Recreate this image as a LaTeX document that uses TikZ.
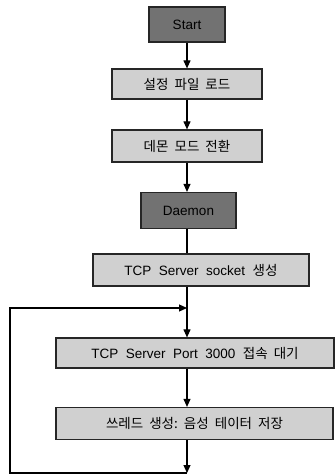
\documentclass[tikz,border=0pt]{standalone}
\usepackage{fontspec}
\setmainfont{Liberation Sans}
\newfontfamily\kr{Noto Sans CJK KR}
\usetikzlibrary{arrows.meta,calc}
\definecolor{darkbox}{HTML}{727272}
\definecolor{lightbox}{HTML}{D0D0D0}
\tikzset{
  box/.style={draw=black!85, line width=1.2pt, inner sep=0pt, align=center, font=\fontsize{13.5}{15}\selectfont},
  darkstep/.style={box, fill=darkbox},
  lightstep/.style={box, fill=lightbox},
  arr/.style={line width=1.1pt, -{Triangle[length=8pt,width=7pt]}},
  ln/.style={line width=1.1pt}
}
\begin{document}
\begin{tikzpicture}[x=1pt,y=-1pt]
\useasboundingbox (0,0) rectangle (335,476);
\coordinate (ax) at (187,0);
\node[darkstep, minimum width=76pt, minimum height=35pt] (start) at (187,24.5) {Start};
\node[lightstep, minimum width=150pt, minimum height=30pt] (cfg) at (187,84) {\kr 설정\ \ 파일\ \ 로드};
\node[lightstep, minimum width=150pt, minimum height=32pt] (mode) at (187,146) {\kr 데몬\ \ 모드\ \ 전환};
\node[darkstep, minimum width=95pt, minimum height=36pt] (daemon) at (188.5,210.5) {Daemon};
\node[lightstep, minimum width=216pt, minimum height=32pt] (sock) at (201,270) {TCP\ \ Server\ \ socket\ \ {\kr 생성}};
\node[lightstep, minimum width=278pt, minimum height=30pt] (port) at (195,353) {TCP\ \ Server\ \ Port\ \ 3000\ \ {\kr 접속\ \ 대기}};
\node[lightstep, minimum width=277pt, minimum height=32pt] (thread) at (194.5,423.5) {{\kr 쓰레드\ \ 생성:\ \ 음성\ \ 테이터\ \ 저장}};
\coordinate (bot) at (187,473);
\coordinate (bl) at (10,473);
\coordinate (tl) at (10,308);
\coordinate (tr) at (187,308);
\draw[arr] (ax |- start.south) -- (ax |- cfg.north);
\draw[arr] (ax |- cfg.south) -- (ax |- mode.north);
\draw[arr] (ax |- mode.south) -- (ax |- daemon.north);
\draw[ln] (ax |- daemon.south) -- (ax |- sock.north);
\draw[arr] (ax |- sock.south) -- (ax |- port.north);
\draw[arr] (ax |- port.south) -- (ax |- thread.north);
\draw[arr] (ax |- thread.south) -- (bot);
\draw[arr] (bot) -- (bl) -- (tl) -- (tr);
\end{tikzpicture}
\end{document}
